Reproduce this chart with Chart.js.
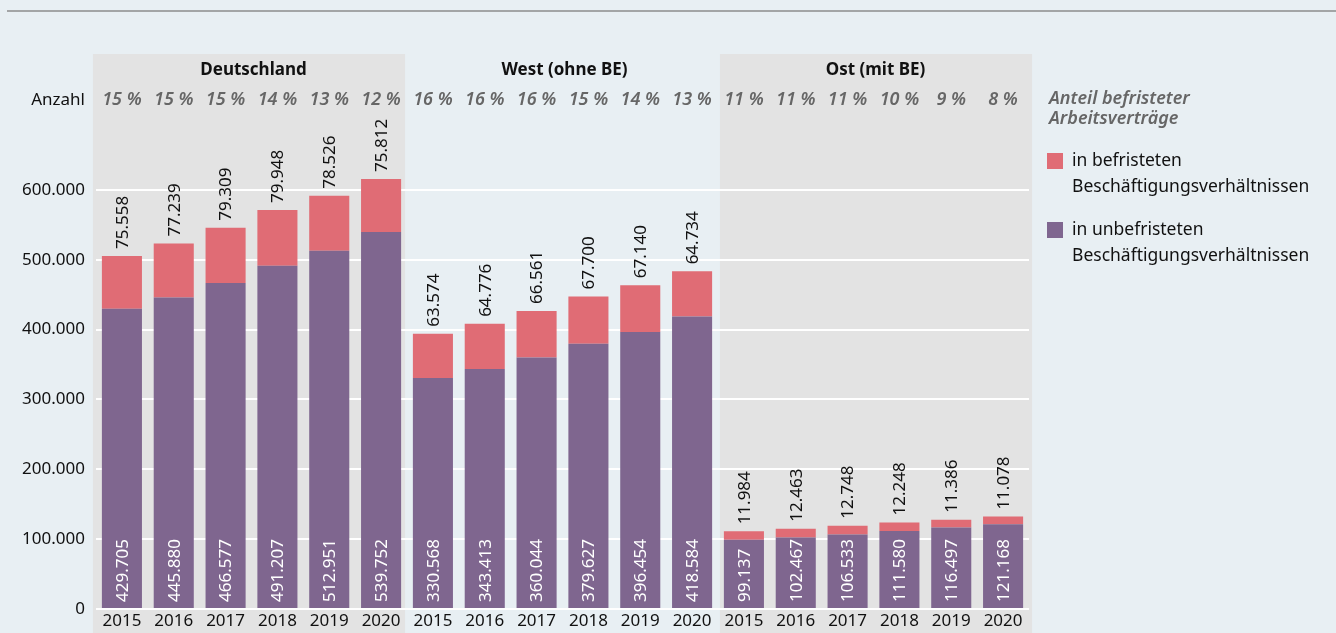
<!DOCTYPE html>
<html lang="de">
<head>
<meta charset="utf-8">
<script src="https://cdn.jsdelivr.net/npm/chart.js@4"></script>
<style>
    html, body { margin: 0; padding: 0; background: #e8eff3; }
    #wrap { width: 1336px; height: 633px; position: relative; }
</style>
</head>
<body>
<div id="wrap"><canvas id="myChart"></canvas></div>
<script>
const years = ['2015', '2016', '2017', '2018', '2019', '2020'];
const groups = ['Deutschland', 'West (ohne BE)', 'Ost (mit BE)'];

const befristet = [
    75558, 77239, 79309, 79948, 78526, 75812,
    63574, 64776, 66561, 67700, 67140, 64734,
    11984, 12463, 12748, 12248, 11386, 11078
];
const unbefristet = [
    429705, 445880, 466577, 491207, 512951, 539752,
    330568, 343413, 360044, 379627, 396454, 418584,
    99137, 102467, 106533, 111580, 116497, 121168
];
const anteil = [15, 15, 15, 14, 13, 12, 16, 16, 16, 15, 14, 13, 11, 11, 11, 10, 9, 8];
const yTicks = [0, 100000, 200000, 300000, 400000, 500000, 600000];

const labels = groups.flatMap(() => years);

const FONT = '"Noto Sans", "DejaVu Sans", sans-serif';
const RED = '#e06c75';
const PURPLE = '#7f668f';

function fmt(n) {
    return String(n).replace(/\B(?=(\d{3})+(?!\d))/g, '.');
}

// Hintergrund, Panels, Titel, Prozentwerte, Werte an den Balken, Legende
const decor = {
    id: 'decor',
    beforeDraw(chart) {
        const ctx = chart.ctx;
        const x = chart.scales.x;
        ctx.save();
        ctx.fillStyle = '#e8eff3';
        ctx.fillRect(0, 0, chart.width, chart.height);
        ctx.strokeStyle = '#8c8c8c';
        ctx.lineWidth = 1.5;
        ctx.beginPath();
        ctx.moveTo(7, 11);
        ctx.lineTo(chart.width, 11);
        ctx.stroke();
        ctx.fillStyle = '#e3e3e3';
        let l = x.getPixelForValue(0) - 29;
        let r = x.getPixelForValue(5) + 24;
        ctx.fillRect(l, 54, r - l, chart.height - 54);
        l = x.getPixelForValue(12) - 24;
        r = x.getPixelForValue(17) + 29;
        ctx.fillRect(l, 54, r - l, chart.height - 54);
        ctx.restore();
    },
    afterDatasetsDraw(chart) {
        const ctx = chart.ctx;
        const metaB = chart.getDatasetMeta(0);
        const metaR = chart.getDatasetMeta(1);
        ctx.save();
        ctx.font = '17px ' + FONT;
        ctx.textBaseline = 'middle';
        ctx.textAlign = 'left';
        metaB.data.forEach((bar, i) => {
            // innen, weiss
            ctx.save();
            ctx.translate(bar.x, bar.base - 6);
            ctx.rotate(-Math.PI / 2);
            ctx.fillStyle = '#ffffff';
            ctx.fillText(fmt(unbefristet[i]), 0, 1);
            ctx.restore();
            // oben, schwarz
            const top = metaR.data[i].y;
            ctx.save();
            ctx.translate(bar.x, top - 7);
            ctx.rotate(-Math.PI / 2);
            ctx.fillStyle = '#111111';
            ctx.fillText(fmt(befristet[i]), 0, 1);
            ctx.restore();
        });
        ctx.restore();
    },
    afterDraw(chart) {
        const ctx = chart.ctx;
        const x = chart.scales.x;
        ctx.save();
        ctx.textBaseline = 'middle';
        // Gruppentitel
        ctx.font = 'bold 17px ' + FONT;
        ctx.fillStyle = '#111111';
        ctx.textAlign = 'center';
        groups.forEach((g, k) => {
            const c = (x.getPixelForValue(k * 6) + x.getPixelForValue(k * 6 + 5)) / 2;
            ctx.fillText(g, c + 2, 70);
        });
        // Anzahl
        ctx.font = '17px ' + FONT;
        ctx.textAlign = 'right';
        ctx.fillText('Anzahl', 85, 100);
        // Anteile
        ctx.font = 'italic 600 18px ' + FONT;
        ctx.fillStyle = '#666666';
        ctx.textAlign = 'center';
        anteil.forEach((p, i) => {
            ctx.fillText(p + ' %', x.getPixelForValue(i), 100);
        });
        // Legende
        ctx.textAlign = 'left';
        ctx.fillText('Anteil befristeter', 1049, 99);
        ctx.fillText('Arbeitsverträge', 1049, 119);
        ctx.fillStyle = RED;
        ctx.fillRect(1047, 153, 16, 16);
        ctx.fillStyle = PURPLE;
        ctx.fillRect(1047, 222, 16, 16);
        ctx.font = '17.5px ' + FONT;
        ctx.fillStyle = '#111111';
        ctx.fillText('in befristeten', 1072, 161);
        ctx.fillText('Beschäftigungsverhältnissen', 1072, 187);
        ctx.fillText('in unbefristeten', 1072, 230);
        ctx.fillText('Beschäftigungsverhältnissen', 1072, 256);
        ctx.restore();
    }
};

new Chart(document.getElementById('myChart'), {
    type: 'bar',
    data: {
        labels: labels,
        datasets: [
            {
                label: 'in unbefristeten Beschäftigungsverhältnissen',
                data: unbefristet,
                backgroundColor: PURPLE,
                borderWidth: 0,
                categoryPercentage: 1,
                barPercentage: 0.773
            },
            {
                label: 'in befristeten Beschäftigungsverhältnissen',
                data: befristet,
                backgroundColor: RED,
                borderWidth: 0,
                categoryPercentage: 1,
                barPercentage: 0.773
            }
        ]
    },
    options: {
        responsive: true,
        maintainAspectRatio: false,
        animation: false,
        layout: {
            padding: { left: 0, right: 307, top: 120, bottom: 0 }
        },
        plugins: {
            legend: { display: false },
            tooltip: { enabled: false }
        },
        scales: {
            x: {
                stacked: true,
                grid: { display: false, drawTicks: false },
                border: { display: false },
                ticks: {
                    color: '#111111',
                    font: { family: FONT, size: 17 },
                    padding: 2,
                    maxRotation: 0,
                    autoSkip: false
                },
                afterFit: scale => { scale.height = 24; }
            },
            y: {
                stacked: true,
                min: 0,
                max: 700000,
                afterBuildTicks: scale => {
                    scale.ticks = yTicks.concat([700000]).map(v => ({ value: v }));
                },
                grid: {
                    color: ctx => ctx.tick && ctx.tick.value > 600000 ? 'rgba(0,0,0,0)' : '#ffffff',
                    lineWidth: 2,
                    drawTicks: false
                },
                border: { display: false },
                ticks: {
                    color: '#111111',
                    font: { family: FONT, size: 17 },
                    padding: 11,
                    callback: v => v > 600000 ? '' : fmt(v)
                },
                afterFit: scale => { scale.width = 96; }
            }
        }
    },
    plugins: [decor]
});
</script>
</body>
</html>
